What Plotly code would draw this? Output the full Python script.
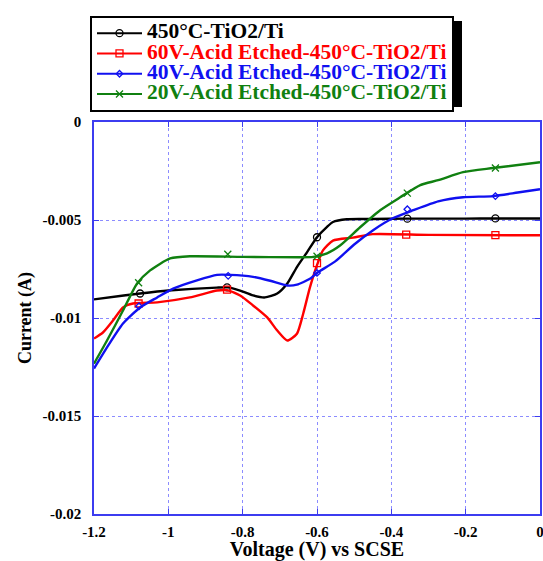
import plotly.graph_objects as go

# ---------------- data (Voltage V vs SCSE; current values in mA, converted to A) ----------------
names = ["450°C-TiO2/Ti",
         "60V-Acid Etched-450°C-TiO2/Ti",
         "40V-Acid Etched-450°C-TiO2/Ti",
         "20V-Acid Etched-450°C-TiO2/Ti"]

black_v = [-1.2, -1.12, -1.076, -1.0, -0.87, -0.84, -0.807, -0.772, -0.74, -0.707, -0.68,
           -0.654, -0.627, -0.6, -0.573, -0.557, -0.52, -0.45, -0.36, -0.2, -0.12, 0.0]
black_i = [-9.05, -8.85, -8.75, -8.6, -8.45, -8.44, -8.6, -8.85, -8.95, -8.75, -8.24,
           -7.4, -6.65, -5.88, -5.35, -5.1, -4.96, -4.95, -4.93, -4.93, -4.92, -4.92]

red_v = [-1.2, -1.176, -1.149, -1.122, -1.095, -1.03, -0.942, -0.869, -0.842, -0.807, -0.772,
         -0.734, -0.707, -0.68, -0.654, -0.637, -0.619, -0.6, -0.584, -0.557, -0.503, -0.45,
         -0.3, 0.0]
red_i = [-11.05, -10.74, -10.13, -9.46, -9.26, -9.2, -8.95, -8.6, -8.58, -8.85, -9.36,
         -9.97, -10.64, -11.15, -10.8, -9.77, -8.44, -7.3, -6.55, -6.05, -5.9, -5.72,
         -5.76, -5.78]

blue_v = [-1.2, -1.165, -1.122, -1.076, -1.03, -0.987, -0.923, -0.869, -0.834, -0.772, -0.726,
          -0.68, -0.654, -0.619, -0.6, -0.55, -0.5, -0.449, -0.395, -0.341, -0.274, -0.207,
          -0.126, -0.06, 0.0]
blue_i = [-12.58, -11.5, -10.28, -9.46, -8.95, -8.5, -8.08, -7.8, -7.8, -7.9, -8.1,
          -8.34, -8.3, -8.0, -7.7, -7.1, -6.25, -5.52, -4.9, -4.5, -4.05, -3.84,
          -3.78, -3.6, -3.43]

green_v = [-1.2, -1.165, -1.122, -1.084, -1.049, -0.995, -0.942, -0.8, -0.65, -0.61, -0.573,
           -0.538, -0.484, -0.43, -0.376, -0.322, -0.274, -0.207, -0.126, 0.0]
green_i = [-12.33, -11.15, -9.62, -8.24, -7.57, -6.96, -6.85, -6.88, -6.9, -6.88, -6.7,
           -6.3, -5.37, -4.5, -3.84, -3.22, -2.97, -2.56, -2.35, -2.05]

# marker positions (V, mA)
black_mv = [-1.076, -0.842, -0.6, -0.357, -0.12]
black_mi = [-8.75, -8.44, -5.88, -4.93, -4.92]
red_mv = [-1.08, -0.842, -0.6, -0.36, -0.12]
red_mi = [-9.26, -8.55, -7.2, -5.75, -5.77]
blue_mv = [-1.079, -0.839, -0.6, -0.357, -0.12]
blue_mi = [-9.4, -7.85, -7.7, -4.45, -3.78]
green_mv = [-1.08, -0.84, -0.6, -0.357, -0.12]
green_mi = [-8.2, -6.75, -6.85, -3.63, -2.35]

x_tickvals = [-1.2, -1.0, -0.8, -0.6, -0.4, -0.2, 0.0]
x_ticktext = ["-1.2", "-1", "-0.8", "-0.6", "-0.4", "-0.2", "0"]
y_tickvals = [0.0, -0.005, -0.01, -0.015, -0.02]
y_ticktext = ["0", "-0.005", "-0.01", "-0.015", "-0.02"]

# ---------------- figure ----------------
W, H = 543, 561
ML, MR, MT, MB = 94, 3, 122, 47
PW, PH = W - ML - MR, H - MT - MB


def px2paper_x(px):
    return (px - ML) / PW


def px2paper_y(py):
    return 1 + (MT - py) / PH


series = [
    (names[0], black_v, black_i, black_mv, black_mi, "#000000", "circle-open", 7),
    (names[1], red_v, red_i, red_mv, red_mi, "#ff0000", "square-open", 7),
    (names[2], blue_v, blue_i, blue_mv, blue_mi, "#1010f0", "diamond-open", 5),
    (names[3], green_v, green_i, green_mv, green_mi, "#108010", "x-thin-open", 7),
]

fig = go.Figure()
for name, v, i, mv, mi, col, sym, ms in series:
    fig.add_trace(go.Scatter(
        x=v, y=[a / 1000 for a in i], mode="lines",
        line=dict(color=col, width=2.4, shape="spline", smoothing=0.6),
        showlegend=False, hoverinfo="skip"))
    fig.add_trace(go.Scatter(
        x=mv, y=[a / 1000 for a in mi], mode="markers",
        marker=dict(symbol=sym, size=ms, color=col, line=dict(color=col, width=1.3)),
        showlegend=False, hoverinfo="skip"))
    # legend entry (text coloured like its series)
    fig.add_trace(go.Scatter(
        x=[None], y=[None], mode="lines+markers",
        name=f'<span style="color:{col};font-size:21.5px">{name}</span>',
        line=dict(color=col, width=2),
        marker=dict(symbol=sym, size=ms, color=col, line=dict(color=col, width=1.3))))

axis_col = "#3c3cf0"
grid_col = "#8c8cff"
tick_font = dict(family="Liberation Serif", size=15, color="black", weight="bold")

fig.update_xaxes(
    range=[-1.2, 0.0], tickvals=x_tickvals, ticktext=x_ticktext, automargin=False,
    showline=True, linecolor=axis_col, linewidth=1.5, mirror="ticks",
    ticks="inside", ticklen=5, tickcolor=axis_col, ticklabeloverflow="allow",
    showgrid=True, gridcolor=grid_col, griddash="dot", gridwidth=1,
    zeroline=False, tickfont=tick_font, ticklabelstandoff=3,
    title=dict(text="Voltage (V) vs SCSE",
               font=dict(family="Liberation Serif", size=20, color="black", weight="bold"),
               standoff=12))
fig.update_yaxes(
    range=[-0.02, 0.0], tickvals=y_tickvals, ticktext=y_ticktext, automargin=False,
    showline=True, linecolor=axis_col, linewidth=1.5, mirror="ticks",
    ticks="inside", ticklen=5, tickcolor=axis_col, ticklabeloverflow="allow",
    showgrid=True, gridcolor=grid_col, griddash="dot", gridwidth=1,
    zeroline=False, tickfont=tick_font, ticklabelstandoff=8,
    title=dict(text="Current (A)",
               font=dict(family="Liberation Serif", size=18, color="black", weight="bold"),
               standoff=6))

# legend box shadow (drawn beneath the legend, offset to lower-right)
fig.add_shape(type="rect", xref="paper", yref="paper", layer="above",
              x0=px2paper_x(95), x1=px2paper_x(462),
              y0=px2paper_y(107), y1=px2paper_y(21),
              fillcolor="black", line=dict(width=0))

fig.update_layout(
    width=W, height=H,
    margin=dict(l=ML, r=MR, t=MT, b=MB, autoexpand=False),
    paper_bgcolor="white", plot_bgcolor="white",
    legend=dict(x=px2paper_x(90), y=px2paper_y(16), xanchor="left", yanchor="top",
                bgcolor="white", bordercolor="black", borderwidth=2,
                font=dict(family="Liberation Serif", size=13.3, weight="bold"),
                itemwidth=45, tracegroupgap=0),
)

fig.write_html("out.html", config={"displayModeBar": False},
               post_script="document.body.style.margin='0px';"
                           "document.body.style.overflow='hidden';")
